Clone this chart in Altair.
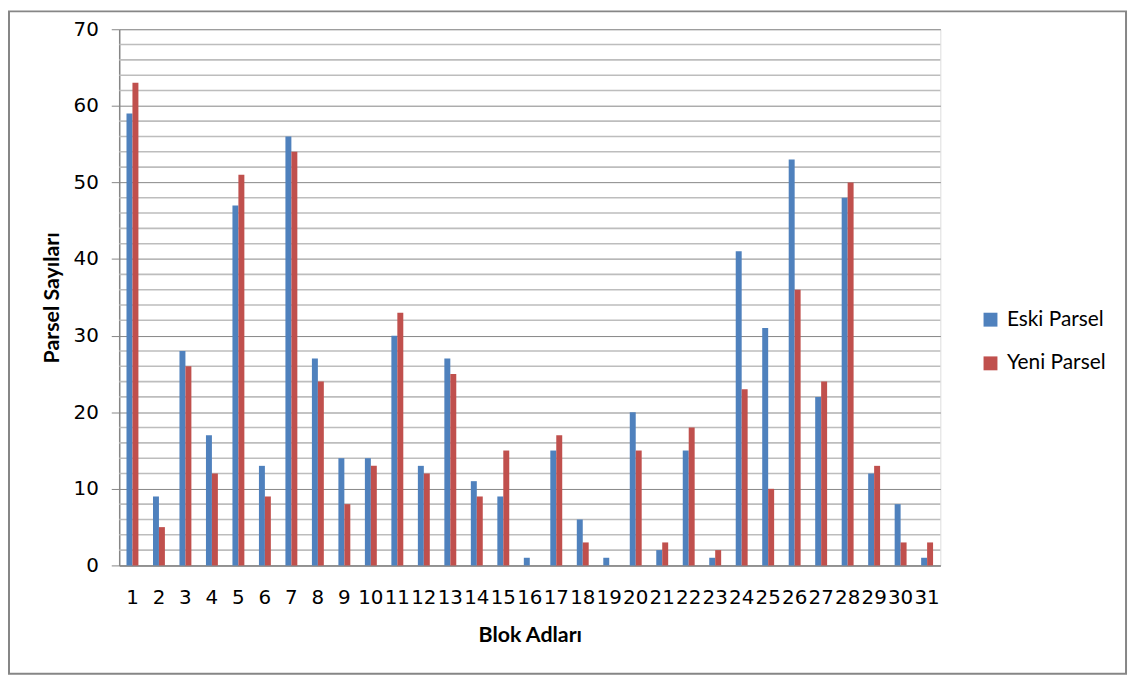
import altair as alt
import pandas as pd

blocks = [str(i) for i in range(1, 32)]
eski = [59, 9, 28, 17, 47, 13, 56, 27, 14, 14, 30, 13, 27, 11, 9, 1, 15, 6, 1, 20, 2, 15, 1, 41, 31, 53, 22, 48, 12, 8, 1]
yeni = [63, 5, 26, 12, 51, 9, 54, 24, 8, 13, 33, 12, 25, 9, 15, 0, 17, 3, 0, 15, 3, 18, 2, 23, 10, 36, 24, 50, 13, 3, 3]
series = ["Eski Parsel", "Yeni Parsel"]
colors = ["#4F81BD", "#C0504D"]
major_ticks = [0, 10, 20, 30, 40, 50, 60, 70]
minor_ticks = [v for v in range(2, 70, 2) if v % 10 != 0]

rows = []
for b, e, y in zip(blocks, eski, yeni):
    rows.append({"blok": b, "seri": series[0], "deger": e})
    rows.append({"blok": b, "seri": series[1], "deger": y})
df = pd.DataFrame(rows)

yscale = alt.Scale(domain=[0, 70], nice=False)
yaxis = alt.Axis(title="Parsel Sayıları", values=major_ticks,
                 grid=True, gridColor="#868686", gridWidth=1,
                 domainColor="#868686", domainWidth=1.5,
                 tickColor="#868686", tickSize=8, labelPadding=13,
                 labelFont="DejaVu Sans", labelFontSize=20,
                 labelColor="#000000",
                 titleFont="Lato", titleFontSize=21.5, titleFontWeight="bold",
                 titleColor="#000000", titlePadding=10)

minor = alt.Chart(pd.DataFrame({"v": minor_ticks})).mark_rule(
    color="#bdbdbd", strokeWidth=1.6
).encode(y=alt.Y("v:Q", scale=yscale, axis=yaxis, title="Parsel Sayıları"))

bars = alt.Chart(df).mark_bar().encode(
    x=alt.X("blok:O", sort=blocks,
            scale=alt.Scale(paddingInner=0.55, paddingOuter=0.275),
            axis=alt.Axis(title="Blok Adları", labelAngle=0, ticks=False,
                          labelOverlap=False, labelPadding=22,
                          labelFont="DejaVu Sans", labelFontSize=20,
                          labelColor="#000000",
                          domainColor="#868686", domainWidth=1.5,
                          titleFont="Lato", titleFontSize=21.5, titleFontWeight="bold",
                          titleColor="#000000", titlePadding=18, grid=False)),
    xOffset=alt.XOffset("seri:N", sort=series),
    y=alt.Y("deger:Q", scale=yscale, axis=yaxis, title="Parsel Sayıları"),
    color=alt.Color("seri:N", sort=series,
                    scale=alt.Scale(domain=series, range=colors),
                    legend=alt.Legend(title=None, orient="none", legendX=867, legendY=282,
                                      symbolType="square", symbolSize=196,
                                      symbolStrokeWidth=0,
                                      labelFont="Lato", labelFontSize=21,
                                      labelColor="#000000",
                                      rowPadding=22, labelOffset=6, padding=0)),
)

border = alt.Chart(pd.DataFrame({"a": [0]})).mark_rect(
    fill=None, stroke="#868686", strokeWidth=2, clip=False
).encode(x=alt.value(-111), x2=alt.value(1014), y=alt.value(-18), y2=alt.value(649))

chart = alt.layer(minor, bars, border).properties(
    width=827, height=540,
    padding={"left": 112, "top": 19, "right": 191, "bottom": 113},
    autosize=alt.AutoSizeParams(type="none"),
).configure_view(stroke=None).configure(background="white")

chart.save("out.html", embed_options={"renderer": "svg", "actions": False})
